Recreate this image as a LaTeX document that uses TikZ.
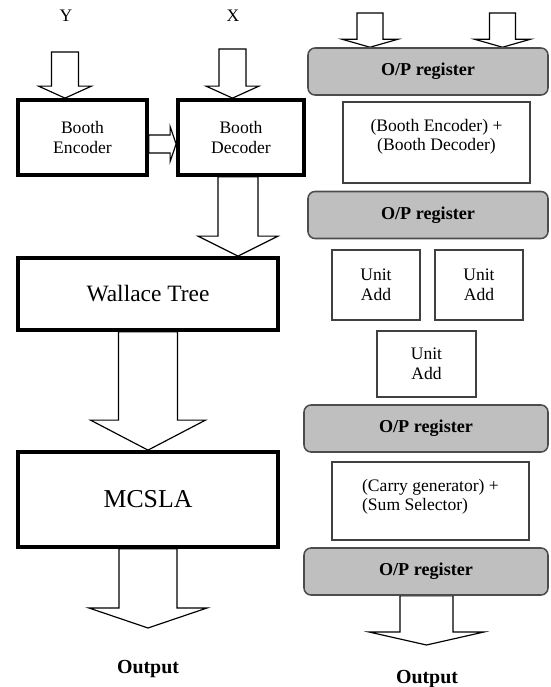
\documentclass[tikz,border=0pt]{standalone}
\usepackage{fontspec}
\setmainfont{Liberation Serif}
\usetikzlibrary{calc,backgrounds}
% hollow block arrow: start, tip, shaft half width, head half width, head length
\newcommand{\hollowarrow}[5]{%
  \coordinate (ha) at ($(#2)!#5!(#1)$);
  \draw[blockarrow] ($(#1)!#3!90:(#2)$) -- ($(ha)!#3!90:(#2)$) -- ($(ha)!#4!90:(#2)$) -- (#2)
    -- ($(ha)!#4!-90:(#2)$) -- ($(ha)!#3!-90:(#2)$) -- ($(#1)!#3!-90:(#2)$) -- cycle;}

\begin{document}
\begin{tikzpicture}[
    thickbox/.style={draw, line width=3.2pt, fill=white, align=center, inner sep=0pt},
    thinbox/.style={draw=black!75, line width=1.1pt, fill=white, align=center, inner sep=0pt,
      font=\fontsize{15}{17}\selectfont},
    opreg/.style={draw=black!70, line width=1.3pt, fill=black!25, rounded corners=6pt,
      minimum height=1.41cm, inner sep=0pt, font=\fontsize{15.5}{17}\selectfont\bfseries},
    blockarrow/.style={draw, line width=1pt, fill=white},
    sidelabel/.style={font=\fontsize{15}{17}\selectfont},
    outlabel/.style={font=\fontsize{17}{19}\selectfont\bfseries}]
  \useasboundingbox (0,0) rectangle (16.5,20.61);

  % left column
  \node[sidelabel] (ylab) at (1.98,20.13) {Y};
  \node[sidelabel] (xlab) at (6.99,20.13) {X};
  \node[thickbox, minimum width=3.87cm, minimum height=2.25cm, font=\fontsize{15}{17}\selectfont] (enc) at (2.475,16.485) {Booth\\Encoder};
  \node[thickbox, minimum width=3.78cm, minimum height=2.25cm, font=\fontsize{15}{17}\selectfont] (dec) at (7.23,16.485) {Booth\\Decoder};
  \node[thickbox, minimum width=7.8cm, minimum height=2.16cm, font=\fontsize{20}{22}\selectfont] (wal) at (4.44,11.79) {Wallace Tree};
  \node[thickbox, minimum width=7.8cm, minimum height=2.85cm, font=\fontsize{22}{24}\selectfont] (mcsla) at (4.44,5.625) {MCSLA};
  \node[outlabel] (out1) at (4.44,0.54) {Output};

  % right column
  \node[opreg, minimum width=7.2cm] (reg1) at (12.84,18.465) {O/P register};
  \node[thinbox, minimum width=5.61cm, minimum height=2.43cm, font=\fontsize{15}{16.5}\selectfont] (be) at (13.095,16.335) {(Booth Encoder) +\\(Booth Decoder)\\[-3pt]\mbox{}};
  \node[opreg, minimum width=7.2cm] (reg2) at (12.84,14.16) {O/P register};
  \node[thinbox, minimum width=2.64cm, minimum height=2.1cm] (add1) at (11.28,12.06) {Unit\\Add};
  \node[thinbox, minimum width=2.64cm, minimum height=2.1cm] (add2) at (14.37,12.06) {Unit\\Add};
  \node[thinbox, minimum width=2.97cm, minimum height=1.98cm] (add3) at (12.795,9.69) {Unit\\Add};
  \node[opreg, minimum width=7.32cm] (reg3) at (12.78,7.755) {O/P register};
  \node[thinbox, minimum width=5.91cm, minimum height=2.34cm, align=left, font=\fontsize{15}{16.5}\selectfont] (cg) at (12.915,5.58) {(Carry generator) +\\(Sum Selector)\\[-6pt]\mbox{}};
  \node[opreg, minimum width=7.32cm] (reg4) at (12.78,3.465) {O/P register};
  \node[outlabel] (out2) at (12.81,0.25) {Output};

  % block arrows
  \begin{scope}[on background layer]
    \coordinate (yin) at (1.95,19.05);
    \coordinate (xin) at (6.975,19.14);
    \coordinate (in1) at (11.1,20.22);
    \coordinate (in2) at (15.075,20.22);
    \coordinate (dx) at (7.14,0);
    \coordinate (hy) at (0,16.29);
    \coordinate (res1) at (4.44,1.77);
    \coordinate (res2) at (12.795,1.26);
    \hollowarrow{yin}{yin |- enc.north}{0.405cm}{0.795cm}{0.36cm}
    \hollowarrow{xin}{xin |- dec.north}{0.405cm}{0.795cm}{0.36cm}
    \hollowarrow{hy -| enc.east}{hy -| dec.west}{0.27cm}{0.525cm}{0.18cm}
    \hollowarrow{dx |- dec.south}{dx |- wal.north}{0.6cm}{1.2cm}{0.6cm}
    \hollowarrow{wal.south}{mcsla.north}{0.885cm}{1.725cm}{0.9cm}
    \hollowarrow{mcsla.south}{res1}{0.87cm}{1.77cm}{0.6cm}
    \hollowarrow{in1}{in1 |- reg1.north}{0.39cm}{0.84cm}{0.24cm}
    \hollowarrow{in2}{in2 |- reg1.north}{0.39cm}{0.84cm}{0.24cm}
    \hollowarrow{res2 |- reg4.south}{res2}{0.795cm}{1.725cm}{0.39cm}
  \end{scope}
\end{tikzpicture}
\end{document}
